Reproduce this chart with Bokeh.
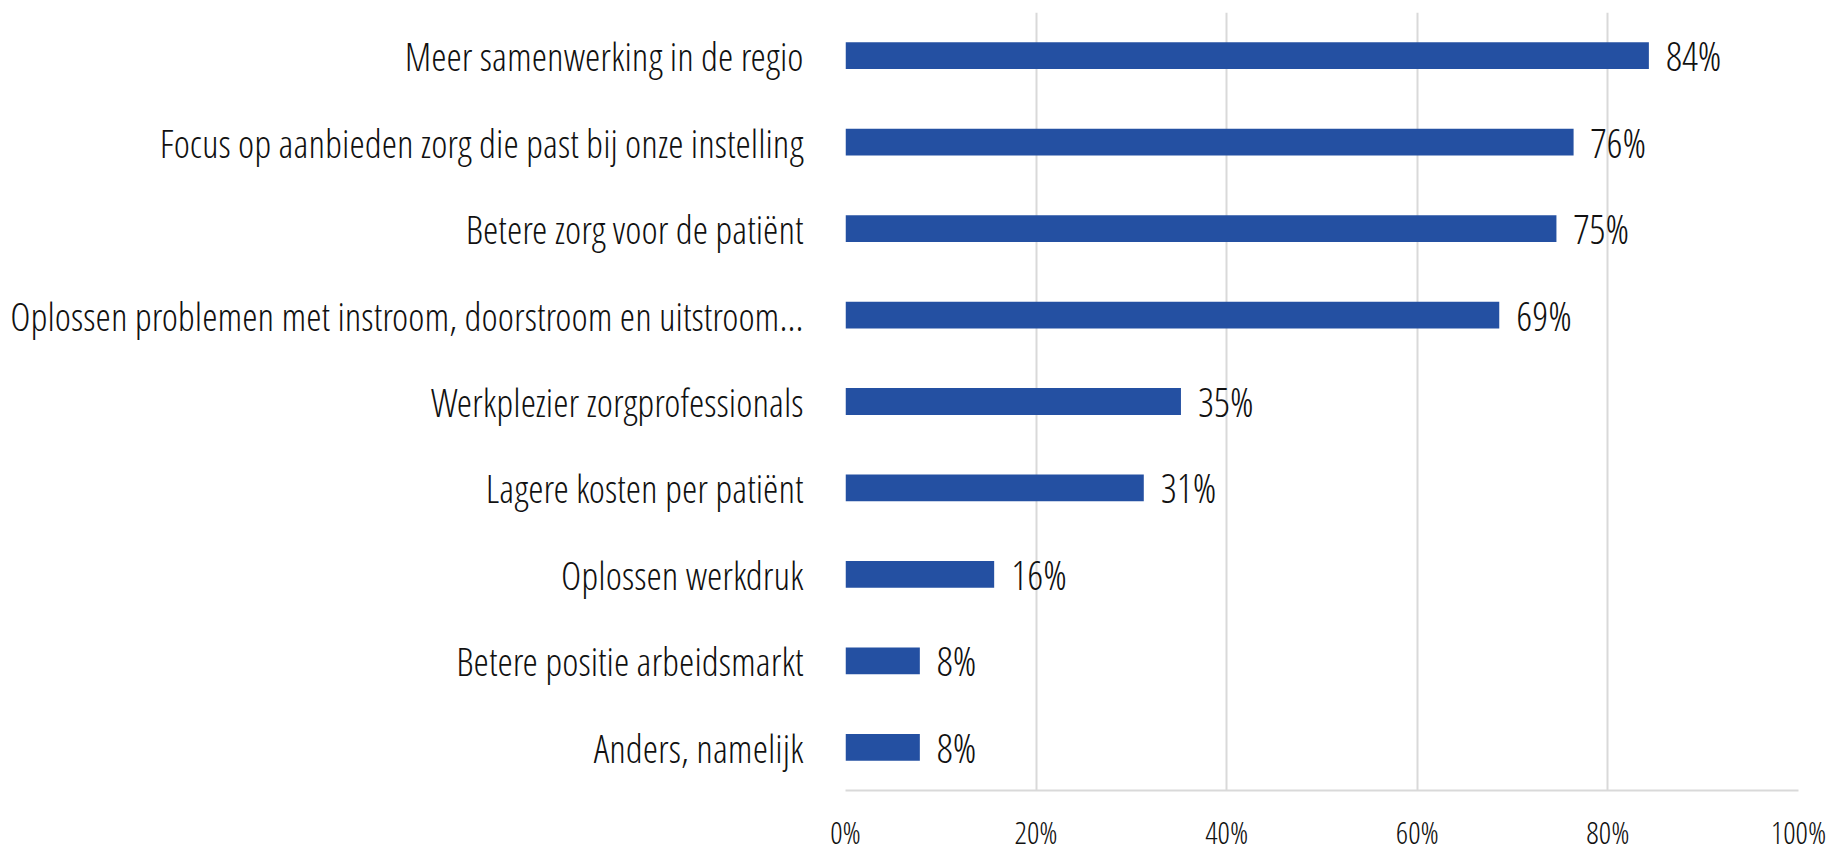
from bokeh.plotting import figure
from bokeh.models import ColumnDataSource, FactorRange, NumeralTickFormatter, FixedTicker
from bokeh.core.properties import value
from bokeh.embed import file_html
from bokeh.resources import INLINE

categories = [
    "Meer samenwerking in de regio",
    "Focus op aanbieden zorg die past bij onze instelling",
    "Betere zorg voor de patiënt",
    "Oplossen problemen met instroom, doorstroom en uitstroom...",
    "Werkplezier zorgprofessionals",
    "Lagere kosten per patiënt",
    "Oplossen werkdruk",
    "Betere positie arbeidsmarkt",
    "Anders, namelijk",
]
percentages = [84.3, 76.4, 74.6, 68.6, 35.2, 31.3, 15.6, 7.8, 7.8]
value_labels = ["84%", "76%", "75%", "69%", "35%", "31%", "16%", "8%", "8%"]
x_ticks = [0, 20, 40, 60, 80, 100]

FONT = "'Open Sans Condensed Light', 'Open Sans'"

src = ColumnDataSource(dict(cat=categories, pct=[v / 100 for v in percentages], lab=value_labels))

p = figure(
    width=1843, height=855,
    y_range=FactorRange(factors=list(reversed(categories)), range_padding=0),
    x_range=(0, 1),
    output_backend="svg", toolbar_location=None,
    min_border_left=845, min_border_right=45, min_border_top=12, min_border_bottom=62,
)

p.hbar(y="cat", right="pct", left=0, height=0.31, source=src,
       fill_color="#2450A2", line_color=None)

p.text(x="pct", y="cat", text="lab", source=src, x_offset=17,
       text_baseline="middle", text_align="left",
       text_font=value(FONT), text_font_size="40px", text_color="#111111")

p.outline_line_color = None
p.ygrid.grid_line_color = None
p.xgrid.grid_line_color = "#d9d9d9"
p.xgrid.grid_line_width = 2
p.xaxis.ticker = FixedTicker(ticks=[t / 100 for t in x_ticks])
p.xaxis.formatter = NumeralTickFormatter(format="0%")
p.xaxis.axis_line_color = "#d9d9d9"
p.xaxis.axis_line_width = 2
p.xaxis.major_tick_line_color = None
p.xaxis.major_tick_out = 0
p.xaxis.major_tick_in = 0
p.xaxis.minor_tick_line_color = None
p.xaxis.minor_tick_out = 0
p.xaxis.major_label_standoff = 20
p.xaxis.major_label_text_font = FONT
p.xaxis.major_label_text_font_size = "31px"
p.xaxis.major_label_text_color = "#111111"

p.yaxis.axis_line_color = None
p.yaxis.major_tick_line_color = None
p.yaxis.major_tick_out = 0
p.yaxis.major_tick_in = 0
p.yaxis.minor_tick_line_color = None
p.yaxis.major_label_standoff = 42
p.yaxis.major_label_text_font = FONT
p.yaxis.major_label_text_font_size = "39px"
p.yaxis.major_label_text_color = "#111111"

open("out.html", "w").write(file_html(p, INLINE))
